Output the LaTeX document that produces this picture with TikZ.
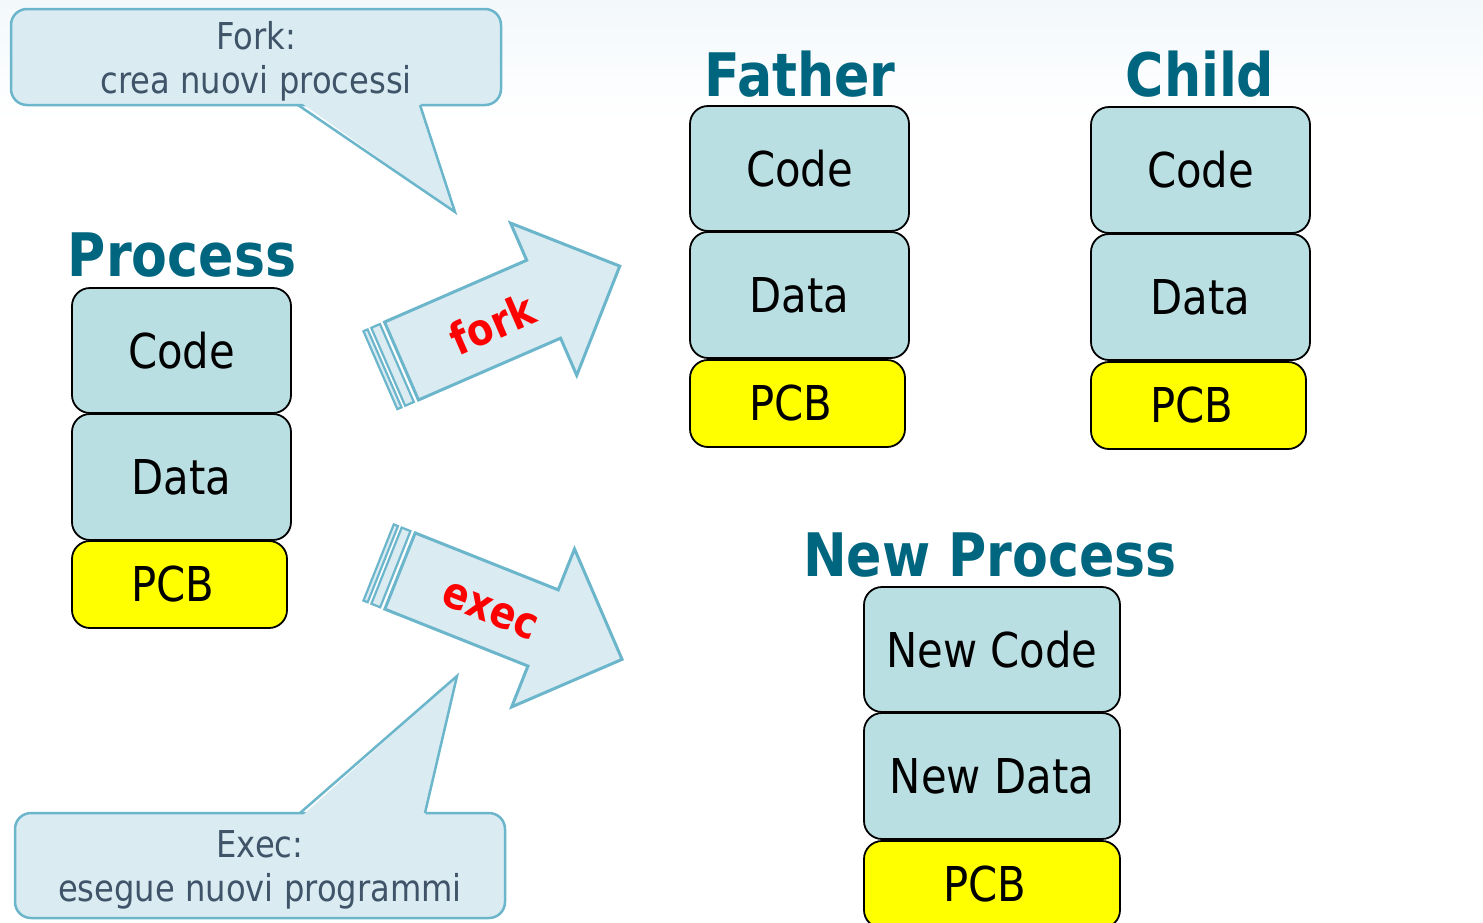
\documentclass[tikz,border=0pt]{standalone}
\usepackage{fontspec}
\setmainfont{DejaVu Sans}[FakeStretch=0.87]
\usetikzlibrary{calc}

\definecolor{titleblue}{RGB}{0,102,128}
\definecolor{boxfill}{RGB}{185,223,227}
\definecolor{pcbfill}{RGB}{255,255,0}
\definecolor{calloutfill}{RGB}{218,235,242}
\definecolor{calloutline}{RGB}{108,182,204}
\definecolor{callouttext}{RGB}{63,84,104}
\definecolor{haze}{RGB}{243,248,251}

\tikzset{
  membox/.style={draw=black, line width=1.8pt, rounded corners=18pt, fill=boxfill,
    inner sep=0pt, font=\fontsize{48}{58}\selectfont},
  pcbbox/.style={membox, fill=pcbfill},
  proctitle/.style={anchor=base, text=titleblue, inner sep=0pt,
    font=\fontsize{60}{70}\selectfont\bfseries},
  calloutbox/.style={draw=calloutline, line width=2.5pt, fill=calloutfill,
    rounded corners=16pt, align=center, inner sep=0pt, text=callouttext,
    font=\fontsize{37}{44}\selectfont},
  callouttail/.style={fill=calloutfill},
  tailedge/.style={draw=calloutline, line width=2.5pt, line join=miter},
  bigarrow/.style={draw=calloutline, line width=3pt, fill=calloutfill, line join=miter},
  arrowstrip/.style={draw=calloutline, line width=2.2pt, fill=calloutfill},
  arrowlabel/.style={text=red, inner sep=0pt, font=\fontsize{44}{50}\selectfont\bfseries}
}
% taller first line pushes the two-line callout text a little lower
\newcommand{\calloutstrut}{\rule{0pt}{36pt}}

\begin{document}
\begin{tikzpicture}[x=1pt, y=-1pt]
\useasboundingbox (0,0) rectangle (1483,922);
\clip (0,0) rectangle (1483,922);
\fill[white] (0,0) rectangle (1483,922);
\fill[top color=haze, bottom color=white] (0,0) rectangle (1483,120);

% ---- fork callout ----
\node[calloutbox, minimum width=490pt, minimum height=96pt] (forkbox) at (256,57)
  {\calloutstrut Fork:\\crea nuovi processi};
\coordinate (forkA) at (298,105);
\coordinate (forkB) at (420,105);
\coordinate (forktip) at (455,212);
\fill[callouttail] ($(forkA)+(2,-3)$) -- (forktip) -- ($(forkB)+(0,-3)$) -- cycle;
\draw[tailedge] (forkA) -- (forktip) -- (forkB);

% ---- exec callout ----
\node[calloutbox, minimum width=490pt, minimum height=105pt] (execbox) at (260,865.5)
  {\calloutstrut Exec:\\esegue nuovi programmi};
\coordinate (execA) at (300,813);
\coordinate (execB) at (425,813);
\coordinate (exectip) at (457,676);
\fill[callouttail] ($(execA)+(2,3)$) -- (exectip) -- ($(execB)+(0,3)$) -- cycle;
\draw[tailedge] (execA) -- (exectip) -- (execB);

% ---- fork arrow ----
\begin{scope}[shift={(401.5,361)}, rotate=23.5]
  \draw[arrowstrip] (-23,-42.5) rectangle (-18.5,42.5);
  \draw[arrowstrip] (-14.5,-42.5) rectangle (-5,42.5);
  \draw[bigarrow] (0,-42.5) -- (155,-42.5) -- (155,-83) -- (238,0) -- (155,83)
    -- (155,42.5) -- (0,42.5) -- cycle;
  \node[arrowlabel, rotate=23.5] (forklbl) at (98,2) {fork};
\end{scope}

% ---- exec arrow ----
\begin{scope}[shift={(400,571)}, rotate=-21.7]
  \draw[arrowstrip] (-23,-41) rectangle (-18.5,41);
  \draw[arrowstrip] (-14.5,-41) rectangle (-5,41);
  \draw[bigarrow] (0,-41) -- (154,-41) -- (154,-85) -- (239,0) -- (154,85)
    -- (154,41) -- (0,41) -- cycle;
  \node[arrowlabel, rotate=-21.7] (execlbl) at (98,4) {exec};
\end{scope}

% ---- original process ----
\node[proctitle] (ptitle) at (182,276) {Process};
\node[membox, minimum width=219pt, minimum height=125pt] (pcode) at (181.5,350.5) {Code};
\node[membox, minimum width=219pt, minimum height=126pt] (pdata) at (181.5,477) {Data};
\node[pcbbox, minimum width=215pt, minimum height=87pt] (ppcb) at (179.5,584.5)
  {\hspace*{-14pt}PCB};

% ---- father ----
\node[proctitle] (ftitle) at (800,96) {Father};
\node[membox, minimum width=219pt, minimum height=125pt] (fcode) at (799.5,168.5) {Code};
\node[membox, minimum width=219pt, minimum height=126pt] (fdata) at (799.5,295) {Data};
\node[pcbbox, minimum width=215pt, minimum height=87pt] (fpcb) at (797.5,403.5)
  {\hspace*{-14pt}PCB};

% ---- child ----
\node[proctitle] (ctitle) at (1200,96) {Child};
\node[membox, minimum width=219pt, minimum height=126pt] (ccode) at (1200.5,170) {Code};
\node[membox, minimum width=219pt, minimum height=126pt] (cdata) at (1200.5,297) {Data};
\node[pcbbox, minimum width=215pt, minimum height=87pt] (cpcb) at (1198.5,405.5)
  {\hspace*{-14pt}PCB};

% ---- new process ----
\node[proctitle] (ntitle) at (990,576) {New Process};
\node[membox, minimum width=256pt, minimum height=125pt] (ncode) at (992,649.5) {New Code};
\node[membox, minimum width=256pt, minimum height=126pt] (ndata) at (992,776) {New Data};
\node[pcbbox, minimum width=256pt, minimum height=87pt] (npcb) at (992,884.5)
  {\hspace*{-14pt}PCB};
\end{tikzpicture}
\end{document}
